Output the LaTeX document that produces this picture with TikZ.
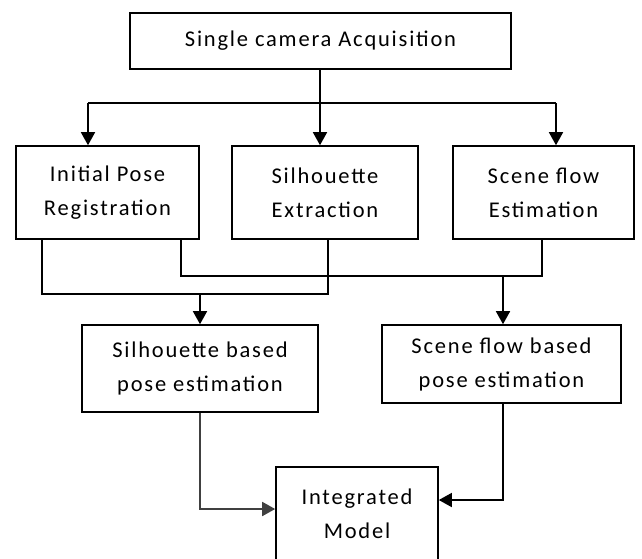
\documentclass[tikz,border=0pt]{standalone}
\usepackage{fontspec}
\setmainfont{Carlito}[LetterSpace=8]
\usetikzlibrary{arrows.meta}
\tikzset{
  box/.style={draw=black, line width=1.6pt, rectangle, inner sep=0pt, align=center,
    font=\fontsize{22.5}{34}\selectfont, text=black},
  conn/.style={line width=1.6pt, black},
  arr/.style={conn, -{Triangle[width=14pt,length=13pt]}}
}
\begin{document}
\begin{tikzpicture}[x=1pt,y=-1pt]
\useasboundingbox (0,0) rectangle (642,558);
\clip (0,0) rectangle (642,558);
\node[box, minimum width=381pt, minimum height=56pt] (top) at (320.5,41) {Single camera Acquisition};
\node[box, minimum width=183pt, minimum height=93pt] (b1) at (107.5,192.5) {Initial Pose\\Registration};
\node[box, minimum width=186pt, minimum height=93pt] (b2) at (325,192.5) {Silhouette\\Extraction};
\node[box, minimum width=181pt, minimum height=93pt] (b3) at (543.5,192.5) {Scene flow\\Estimation};
\node[box, minimum width=236pt, minimum height=87pt] (b4) at (200,368.5) {Silhouette based\\pose estimation};
\node[box, minimum width=239pt, minimum height=78pt] (b5) at (501.5,364) {Scene flow based\\pose estimation};
\node[box, minimum width=162pt, minimum height=93pt] (b6) at (357,513.5) {Integrated\\Model};
% top fan-out
\coordinate (jl) at (88,103);
\coordinate (jm) at (320,103);
\coordinate (jr) at (556,103);
\draw[conn] (jl) -- (jr);
\draw[arr] (jm |- top.south) -- (jm |- b2.north);
\draw[arr] (jl) -- (jl |- b1.north);
\draw[arr] (jr) -- (jr |- b3.north);
% merge A
\coordinate (a1) at (42,294);
\coordinate (a2) at (328,294);
\draw[conn] (a1 |- b1.south) -- (a1) -- (a2) -- (a2 |- b2.south);
\draw[arr] (b4.north |- a1) -- (b4.north);
% merge B
\coordinate (c1) at (181,276);
\coordinate (c2) at (542,276);
\coordinate (c3) at (503,276);
\draw[conn] (c1 |- b1.south) -- (c1) -- (c2) -- (c2 |- b3.south);
\draw[arr] (c3) -- (c3 |- b5.north);
% to integrated model
\coordinate (d1) at (200,509);
\coordinate (e1) at (503,500);
\draw[arr, black!75] (b4.south) -- (d1) -- (d1 -| b6.west);
\draw[arr] (e1 |- b5.south) -- (e1) -- (e1 -| b6.east);
\end{tikzpicture}
\end{document}
